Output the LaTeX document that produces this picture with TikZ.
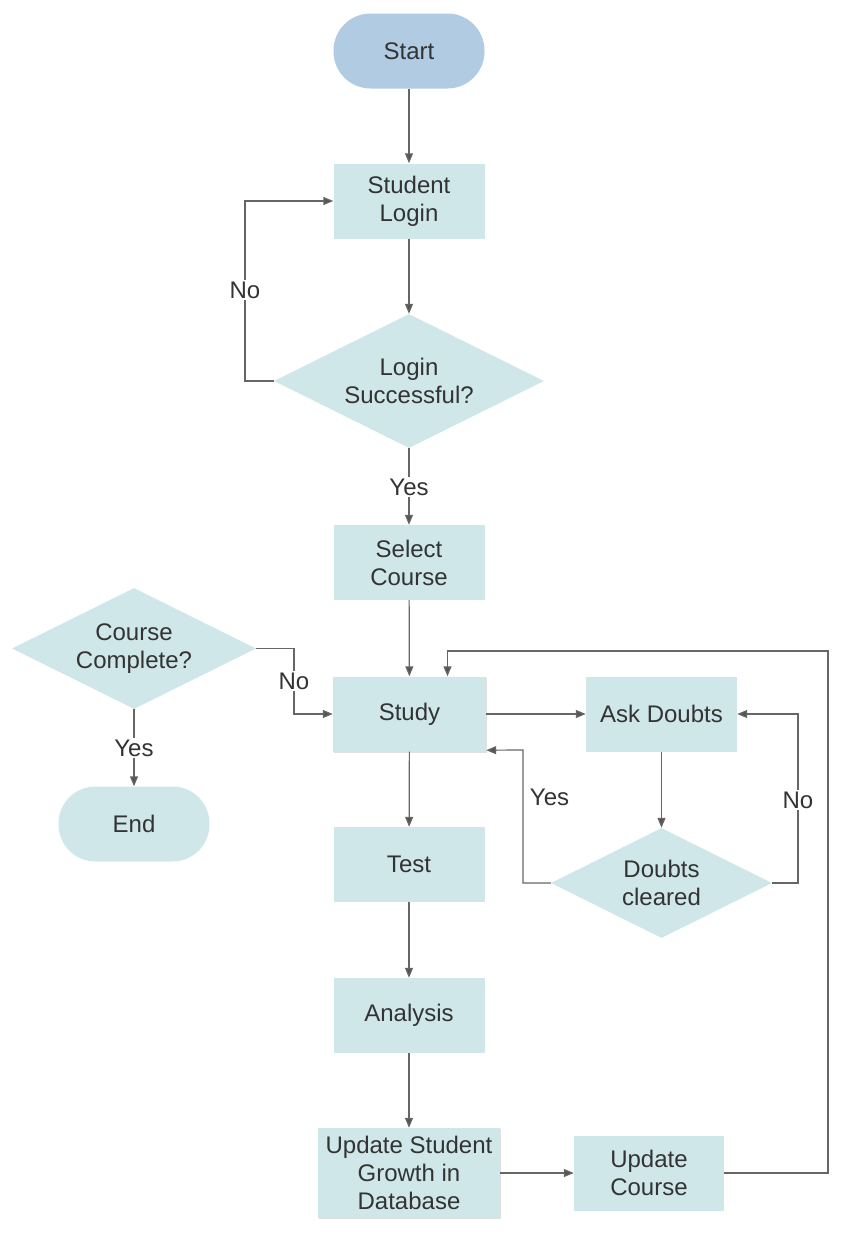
\documentclass[tikz,border=0pt]{standalone}
\usepackage{fontspec}
\setmainfont{Liberation Sans}
\usetikzlibrary{arrows.meta,shapes.geometric,shadows}
\definecolor{startc}{HTML}{B1CCE2}
\definecolor{boxc}{HTML}{CFE7E9}
\definecolor{txt}{HTML}{333333}
\definecolor{ln}{HTML}{666666}
\definecolor{tipc}{HTML}{555555}
\begin{document}
\begin{tikzpicture}[x=1pt,y=-1pt,
  every node/.style={text=txt, font=\fontsize{24}{28}\selectfont},
  box/.style={fill=boxc, minimum width=151pt, minimum height=75pt, align=center, inner sep=0pt},
  pill/.style={box, rounded corners=37pt},
  dec/.style={diamond, aspect=2, fill=boxc, inner sep=0pt, align=center},
  shad/.style={drop shadow={shadow xshift=1pt, shadow yshift=-1pt, opacity=0.12, fill=black}},
  arr/.style={draw=ln, line width=1.2pt, -{Triangle[length=10pt,width=8pt,fill=tipc]}},
  lbl/.style={fill=white, inner sep=1.5pt},
  freelbl/.style={inner sep=0pt}]
\useasboundingbox (0,0) rectangle (841,1234);

% nodes
\node[pill, fill=startc] (start) at (409,51) {Start};
\node[box] (login) at (409,201) {Student\\Login};
\node[dec, minimum width=270pt, minimum height=134pt] (lsucc) at (409,381) {Login\\Successful?};
\node[box] (select) at (409,562.5) {Select\\Course};
\node[box, shad, minimum width=153pt] (study) at (409.5,714) {Study};
\node[box] (ask) at (661.5,714) {Ask Doubts};
\node[dec, minimum width=221pt, minimum height=110pt] (dc) at (661.5,883) {Doubts\\cleared};
\node[box] (test) at (409,864.5) {Test};
\node[box] (analysis) at (409,1015.5) {Analysis};
\node[box, shad, minimum width=182pt, minimum height=90pt] (usg) at (409,1173) {Update Student\\Growth in\\Database};
\node[box, minimum width=150pt] (uc) at (649,1173) {Update\\Course};
\node[dec, minimum width=244pt, minimum height=121pt] (cc) at (134,648.5) {Course\\Complete?};
\node[pill] (end) at (134,824) {End};

% connectors
\draw[arr] (start) -- (login);
\draw[arr] (login) -- (lsucc);
\draw[arr] (lsucc.west) -- (245,381) -- (245,201) -- (login.west);
\node[lbl] (lno) at (245,290) {No};
\draw[arr] (lsucc.south) -- (select.north);
\node[lbl] (lyes) at (409,487) {Yes};
\draw[arr] (select) -- (study);
\draw[arr] (cc.east) -- (294,648.5) -- (294,714) -- (study.west);
\node[lbl] (ccno) at (294,681) {No};
\draw[arr] (cc.south) -- (end.north);
\node[lbl] (ccyes) at (134,748) {Yes};
\draw[arr] (study.east) -- (ask.west);
\draw[arr] (ask.south) -- (dc.north);
\draw[arr] (dc.west) -- (523,883) -- (523,750) -- ([yshift=1.5pt]study.south east);
\node[freelbl] (dcyes) at (549.5,797) {Yes};
\draw[arr] (dc.east) -- (798,883) -- (798,714) -- (ask.east);
\node[lbl] (dcno) at (798,800) {No};
\draw[arr] (study) -- (test);
\draw[arr] (test) -- (analysis);
\draw[arr] (analysis) -- (usg);
\draw[arr] (usg.east) -- (uc.west);
\draw[arr] (uc.east) -- (828,1173) -- (828,651) -- (447.5,651) -- ([xshift=38pt]study.north);
\end{tikzpicture}
\end{document}
